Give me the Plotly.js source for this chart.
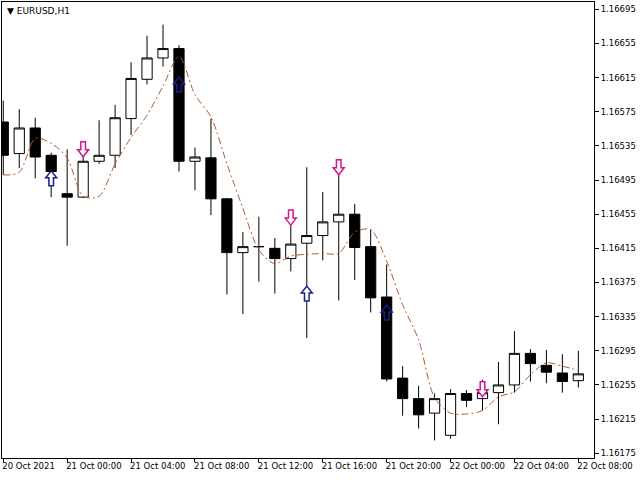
<!DOCTYPE html>
<html>
<head>
<meta charset="utf-8">
<script src="https://cdn.plot.ly/plotly-3.0.1.min.js"></script>
<style>
    html, body { margin: 0; padding: 0; background: #fff; }
    #placeholder { width: 640px; height: 480px; }
</style>
</head>
<body>
<div id="placeholder"></div>
<script>
( function() {
    'use strict';

    // EURUSD H1, 20 Oct 20:00 .. 22 Oct 08:00
    var open = [1.16563, 1.16526, 1.16556, 1.16524, 1.16479, 1.16475, 1.16517, 1.16524, 1.16567, 1.16613,
        1.16638, 1.16649, 1.16517, 1.16521, 1.16473, 1.16410, 1.16417, 1.16415, 1.16403, 1.16421,
        1.16430, 1.16446, 1.16455, 1.16417, 1.16358, 1.16263, 1.16239, 1.16222, 1.16196, 1.16245,
        1.16239, 1.16246, 1.16255, 1.16292, 1.16278, 1.16269, 1.16260];
    var high = [1.16588, 1.16578, 1.16568, 1.16527, 1.16531, 1.16533, 1.16565, 1.16583, 1.16633, 1.16664,
        1.16677, 1.16653, 1.16533, 1.16567, 1.16474, 1.16434, 1.16452, 1.16427, 1.16454, 1.16510,
        1.16481, 1.16518, 1.16467, 1.16437, 1.16396, 1.16277, 1.16254, 1.16245, 1.16250, 1.16249,
        1.16261, 1.16282, 1.16318, 1.16297, 1.16296, 1.16291, 1.16295];
    var low = [1.16501, 1.16509, 1.16497, 1.16475, 1.16418, 1.16474, 1.16514, 1.16509, 1.16548, 1.16607,
        1.16628, 1.16505, 1.16483, 1.16454, 1.16361, 1.16338, 1.16376, 1.16362, 1.16388, 1.16310,
        1.16401, 1.16354, 1.16378, 1.16340, 1.16259, 1.16219, 1.16204, 1.16190, 1.16192, 1.16229,
        1.16225, 1.16209, 1.16246, 1.16259, 1.16257, 1.16246, 1.16252];
    var close = [1.16524, 1.16556, 1.16522, 1.16505, 1.16475, 1.16517, 1.16524, 1.16568, 1.16614, 1.16638,
        1.16649, 1.16517, 1.16522, 1.16473, 1.16410, 1.16417, 1.16417, 1.16403, 1.16420, 1.16430,
        1.16446, 1.16455, 1.16416, 1.16357, 1.16262, 1.16239, 1.16220, 1.16239, 1.16245, 1.16237,
        1.16246, 1.16255, 1.16292, 1.16280, 1.16270, 1.16259, 1.16268];
    var ma = [1.16501, 1.16504, 1.16544, 1.16538, 1.16521, 1.16476, 1.16476, 1.16514, 1.16545, 1.16571,
        1.16605, 1.16640, 1.16595, 1.16569, 1.16514, 1.16462, 1.16413, 1.16397, 1.16406, 1.16408,
        1.16409, 1.16409, 1.16434, 1.16437, 1.16400, 1.16349, 1.16308, 1.16240, 1.16222, 1.16221,
        1.16225, 1.16241, 1.16247, 1.16267, 1.16281, 1.16277, 1.16272];

    var upBars = [3, 11, 19, 24];
    var upPrices = [1.16497, 1.16607, 1.16362, 1.16340];
    var downBars = [5, 18, 21, 30];
    var downPrices = [1.16531, 1.16451, 1.16510, 1.16250];

    var tickBars = [0, 4, 8, 12, 16, 20, 24, 28, 32, 36];
    var tickText = ['20 Oct 2021', '21 Oct 00:00', '21 Oct 04:00', '21 Oct 08:00', '21 Oct 12:00',
        '21 Oct 16:00', '21 Oct 20:00', '22 Oct 00:00', '22 Oct 04:00', '22 Oct 08:00'];
    var priceTicks = [1.16175, 1.16215, 1.16255, 1.16295, 1.16335, 1.16375, 1.16415,
        1.16455, 1.16495, 1.16535, 1.16575, 1.16615, 1.16655, 1.16695];

    var bars = open.map( ( v, i ) => i );

    // hollow block arrows, path in pixels around the anchor
    var arrowShape = ( bar, price, up, color ) => {
        var inBody = price <= Math.max( open[bar], close[bar] ) && price >= Math.min( open[bar], close[bar] );
        var s = up ? 1 : -1;
        var path = `M0,${ 7.5 * s }L5.5,${ 0.5 * s }L2.3,${ 0.5 * s }L2.3,${ -7.5 * s }` +
            `L-2.3,${ -7.5 * s }L-2.3,${ 0.5 * s }L-5.5,${ 0.5 * s }Z`;
        return {
            type: 'path',
            xref: 'x', yref: 'y',
            xsizemode: 'pixel', ysizemode: 'pixel',
            xanchor: bar, yanchor: price,
            path: path,
            line: { color: color, width: 1.5 },
            fillcolor: inBody ? 'rgba(0,0,0,0)' : '#ffffff'
        };
    };

    document.addEventListener('DOMContentLoaded', function() {
        var candles = {
            type: 'candlestick',
            x: bars,
            open: open,
            high: high,
            low: low,
            close: close,
            increasing: { line: { color: '#000000', width: 1 }, fillcolor: '#ffffff' },
            decreasing: { line: { color: '#000000', width: 1 }, fillcolor: '#000000' },
            hoverinfo: 'skip'
        };

        var line = {
            type: 'scatter',
            mode: 'lines',
            x: bars,
            y: ma,
            line: { color: '#b5582c', width: 1, dash: '7px,3px,2px,3px', shape: 'spline', smoothing: 0.8 },
            hoverinfo: 'skip'
        };

        var shapes = [];
        upBars.forEach( ( b, i ) => shapes.push( arrowShape( b, upPrices[i], true, '#1c1c86' ) ) );
        downBars.forEach( ( b, i ) => shapes.push( arrowShape( b, downPrices[i], false, '#d0168c' ) ) );

        var layout = {
            width: 640,
            height: 480,
            margin: { l: 2, r: 46, t: 2, b: 22 },
            paper_bgcolor: '#ffffff',
            plot_bgcolor: '#ffffff',
            showlegend: false,
            boxgap: 0.36,
            boxgroupgap: 0,
            font: { family: 'DejaVu Sans', size: 8.5, color: '#000000' },
            xaxis: {
                range: [-0.08, 36.98],
                rangeslider: { visible: false },
                showgrid: false,
                zeroline: false,
                showline: true,
                mirror: true,
                linecolor: '#000000',
                linewidth: 1,
                ticks: 'outside',
                ticklen: 3,
                tickcolor: '#000000',
                tickvals: tickBars,
                ticktext: tickText,
                tickangle: 0,
                ticklabelposition: 'outside right',
                ticklabelshift: -2,
                tickfont: { family: 'DejaVu Sans', size: 8.5 }
            },
            yaxis: {
                range: [1.1616944, 1.1670355],
                side: 'right',
                showgrid: false,
                zeroline: false,
                showline: true,
                mirror: true,
                linecolor: '#000000',
                linewidth: 1,
                ticks: 'outside',
                ticklen: 4,
                tickcolor: '#000000',
                tickvals: priceTicks,
                tickformat: '.5f',
                tickfont: { family: 'DejaVu Sans', size: 8.5 }
            },
            shapes: shapes,
            annotations: [ {
                xref: 'paper', yref: 'paper',
                x: 0, y: 1,
                xanchor: 'left', yanchor: 'top',
                xshift: 3, yshift: -2,
                showarrow: false,
                text: '\u25BC EURUSD,H1',
                font: { family: 'DejaVu Sans', size: 9, color: '#000000' }
            } ]
        };

        Plotly.newPlot('placeholder', [ candles, line ], layout, { staticPlot: true });
    });
} )();
</script>
</body>
</html>
